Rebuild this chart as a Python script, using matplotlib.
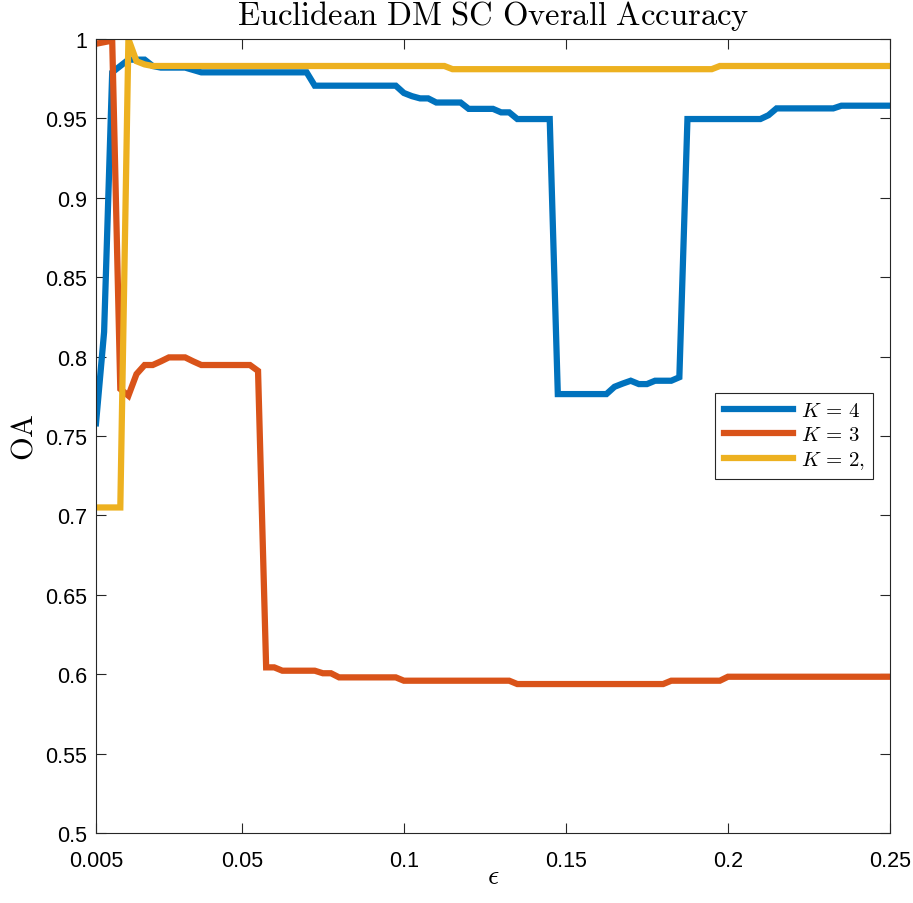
import matplotlib
matplotlib.use("Agg")
import matplotlib.pyplot as plt
import numpy as np

# epsilon grid 0.005:0.0025:0.25
eps = np.arange(99) * 0.0025 + 0.005

oa_k4 = ([0.758, 0.8155, 0.979, 0.983, 0.987, 0.987, 0.987, 0.983]
         + [0.982] * 4 + [0.9805] + [0.979] * 14 + [0.9706] * 11
         + [0.966, 0.964] + [0.9626] * 2 + [0.960] * 4 + [0.956] * 4
         + [0.9538] * 2 + [0.9496] * 5 + [0.7764] * 7
         + [0.781, 0.783, 0.7848, 0.7827, 0.7827, 0.7848, 0.7848, 0.7848, 0.787]
         + [0.9496] * 10 + [0.952] + [0.9563] * 8 + [0.958] * 7)

oa_k3 = ([0.997, 0.998, 0.999, 0.7796, 0.7754, 0.789, 0.7947, 0.7947, 0.797]
         + [0.7995] * 3 + [0.797] + [0.7947] * 7 + [0.791]
         + [0.6043] * 2 + [0.6022] * 5 + [0.6006] * 2 + [0.598] * 8
         + [0.5959] * 14 + [0.5938] * 19 + [0.5959] * 7 + [0.5984] * 21)

oa_k2 = ([0.705] * 4 + [1.0, 0.986, 0.984] + [0.983] * 37
         + [0.981] * 33 + [0.983] * 22)

labels = [r'$K\,=\,4$', r'$K\,=\,3$', r'$K\,=\,2,$']
colors = ['#0072BD', '#D95319', '#EDB120']

xticks = [0.005, 0.05, 0.1, 0.15, 0.2, 0.25]
xticklabels = ['0.005', '0.05', '0.1', '0.15', '0.2', '0.25']
yticks = np.arange(11) * 0.05 + 0.5
yticklabels = ['0.5', '0.55', '0.6', '0.65', '0.7', '0.75', '0.8', '0.85', '0.9', '0.95', '1']

plt.rcParams['mathtext.fontset'] = 'cm'
plt.rcParams['font.family'] = 'Liberation Sans'

fig = plt.figure(figsize=(9.13, 9.04), dpi=100)
ax = fig.add_axes([96 / 913, 1 - 834 / 904, 794 / 913, 794 / 904])

for y, lab, c in zip([oa_k4, oa_k3, oa_k2], labels, colors):
    ax.plot(eps, y, color=c, lw=4.5, label=lab, solid_joinstyle='miter')

ax.set_xlim(0.005, 0.25)
ax.set_ylim(0.5, 1.0)
ax.set_xticks(xticks)
ax.set_xticklabels(xticklabels)
ax.set_yticks(yticks)
ax.set_yticklabels(yticklabels)
ax.tick_params(direction='in', top=True, right=True, labelsize=15.5,
               length=7, width=0.8, colors='#262626', labelcolor='black')
ax.tick_params(axis='x', pad=12.5)
ax.tick_params(axis='y', pad=6.5)
for s in ax.spines.values():
    s.set_linewidth(0.8)
    s.set_color('#262626')

ax.set_title(r'$\mathrm{Euclidean\ DM\ SC\ Overall\ Accuracy}$', fontsize=23.5, pad=11)
ax.set_ylabel(r'$\mathrm{OA}$', fontsize=22, labelpad=4)
ax.set_xlabel(r'$\epsilon$', fontsize=20, labelpad=-6)

leg = ax.legend(loc='center right', bbox_to_anchor=((873 - 96) / 794, 0.5),
                borderaxespad=0, fontsize=15, handlelength=3.35, handletextpad=0.35,
                fancybox=False, framealpha=1, edgecolor='#262626',
                borderpad=0.4, labelspacing=0.25)
leg.get_frame().set_linewidth(0.8)

fig.savefig('out.png', dpi=100)
